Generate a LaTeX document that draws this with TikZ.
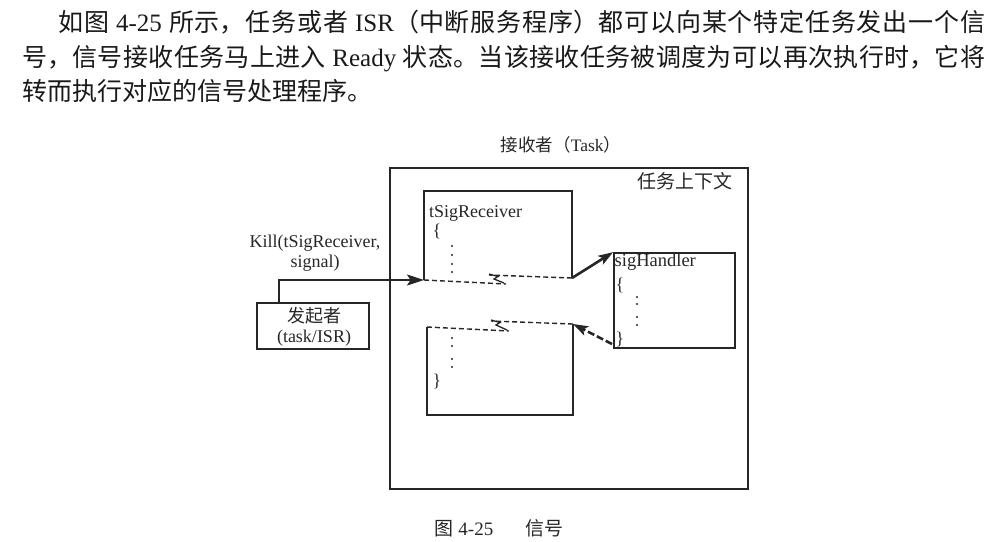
\documentclass[tikz,border=0pt]{standalone}
\usepackage{fontspec}
\setmainfont{Liberation Serif}
\newfontfamily\cjk{Noto Sans CJK SC}
\usetikzlibrary{arrows.meta}
\XeTeXlinebreaklocale "zh"
\XeTeXlinebreakskip=0pt plus 3pt
\definecolor{ink}{gray}{0.15}
\begin{document}
\begin{tikzpicture}[x=1pt,y=-1pt,
  box/.style={draw=ink, line width=1.7pt, inner sep=0},
  solidline/.style={draw=ink, line width=1.7pt},
  brk/.style={draw=ink, dash pattern=on 5pt off 3pt, line width=1.4pt},
  squig/.style={draw=ink, line width=1.3pt},
  sigarrow/.style={draw=ink, line width=2.6pt, -{Stealth[length=15pt,width=10pt,inset=3.5pt]}},
  lbl/.style={inner sep=0, text=ink, font=\fontsize{18}{19}\selectfont},
]
\useasboundingbox (0,0) rectangle (992,541);

% paragraph
\node[anchor=north west, inner sep=0, text width=963pt, align=justify, text=black!90,
      font=\fontsize{25}{34.5}\selectfont] (para) at (22,10)
  {\hspace*{36pt}{\cjk 如图} 4-25 {\cjk 所示，任务或者} ISR{\cjk （中断服务程序）都可以向某个特定任务发出一个信}\linebreak
   {\cjk 号，信号接收任务马上进入} Ready {\cjk 状态。当该接收任务被调度为可以再次执行时，它将}\linebreak
   {\cjk 转而执行对应的信号处理程序。}};

% outer task context
\node[box, minimum width=358pt, minimum height=321pt] (ctx) at (569,328.5) {};
\node[lbl, font=\fontsize{17.5}{19}\selectfont] (recvlabel) at (561,145) {{\cjk 接收者（}Task{\cjk ）}};
\node[lbl, font=\fontsize{19}{20}\selectfont] (ctxlabel) at (685,181) {\cjk 任务上下文};

% initiator
\node[box, minimum width=112pt, minimum height=46pt] (init) at (313,326) {};
\node[lbl] (initA) at (314,316) {\cjk 发起者};
\node[lbl] (initB) at (314,338) {(task/ISR)};
\node[lbl, align=center, font=\fontsize{18}{20}\selectfont] (kill) at (315,253) {Kill(tSigReceiver,\\signal)};

% receiver upper box
\coordinate (rTL) at (424,191);
\coordinate (rTR) at (572,191);
\coordinate (rBL) at (424,280);
\coordinate (rBR) at (572,278);
\coordinate (rBrkL) at (506,284);
\coordinate (rBrkR) at (489,275);
\draw[solidline] (rBL) -- (rTL) -- (rTR) -- (rBR);
\draw[brk] (rBL) -- (rBrkL);
\draw[brk] (rBR) -- (rBrkR);
\draw[squig] (489,274) -- (498,276.5) -- (494,279) -- (504,283);

\node[lbl, anchor=base west] (tsr) at (429,217) {tSigReceiver};
\node[lbl] (ob1) at (437,231) {\{};
\foreach \y in {246,255,264,272} \fill[ink] (452,\y) circle (1.2pt);

% receiver lower box
\coordinate (bTL) at (427,327);
\coordinate (bTR) at (573,324);
\coordinate (bBL) at (427,415);
\coordinate (bBR) at (573,415);
\draw[solidline] (bTL) -- (bBL) -- (bBR) -- (bTR);
\draw[brk] (bTL) -- (509,331);
\draw[brk] (bTR) -- (491,321);
\draw[squig] (491,320) -- (500,322.5) -- (496,325) -- (507,330);
\foreach \y in {338,346,359,367} \fill[ink] (452,\y) circle (1.2pt);
\node[lbl] (cb1) at (437,381) {\}};

% signal handler
\node[box, minimum width=121pt, minimum height=95pt] (sh) at (674.5,300.5) {};
\node[lbl, font=\fontsize{18.5}{19}\selectfont, anchor=base west] (shname) at (614.5,266) {sigHandler};
\node[lbl] (ob2) at (620,285) {\{};
\foreach \y in {297,304,317,325} \fill[ink] (637,\y) circle (1.2pt);
\node[lbl] (cb2) at (620,339) {\}};
\coordinate (shRet) at (612,344);

% connectors
\coordinate (initTop) at (279,303);
\draw[solidline, -{Stealth[length=17pt,width=11pt,inset=3.5pt]}] (initTop) |- (rBL);
\draw[sigarrow] (rBR) -- (sh.north west);
\draw[sigarrow, dash pattern=on 7pt off 3pt] (shRet) -- (bTR);

% caption
\node[lbl, font=\fontsize{19}{20}\selectfont] (cap) at (499,528) {{\cjk 图} 4-25\hspace{32pt}{\cjk 信号}};
\end{tikzpicture}
\end{document}
